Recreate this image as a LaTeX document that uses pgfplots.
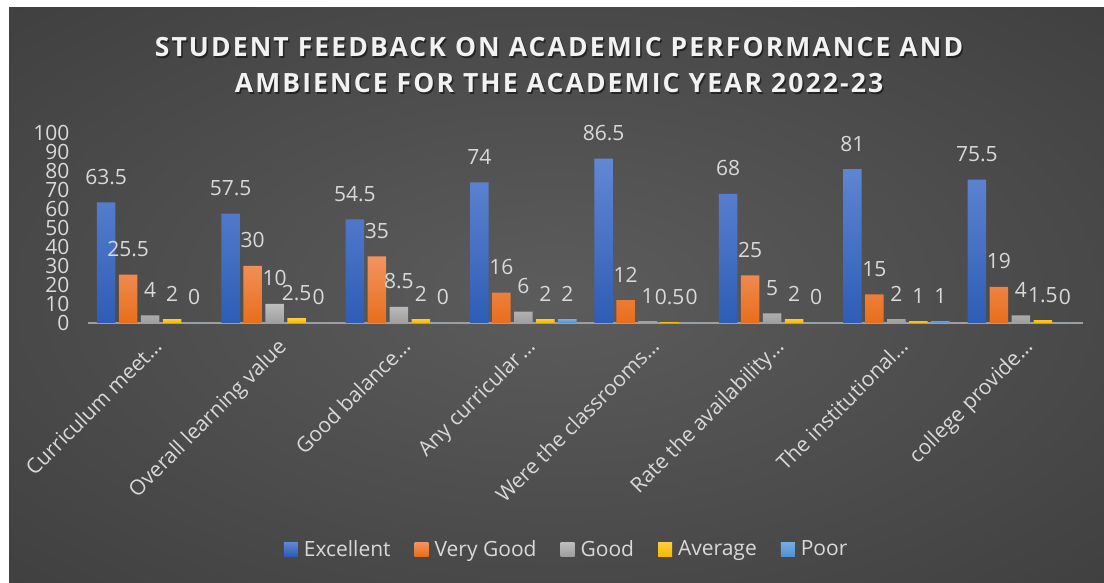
\documentclass[border=0pt]{standalone}
\usepackage{pgfplots}
\usepackage{pgfplotstable}
\pgfplotsset{compat=1.18}
\usepackage{fontspec}
\setmainfont{Open Sans}
\newfontfamily\titlefont[LetterSpace=8]{Open Sans}
\definecolor{bgin}{RGB}{92,92,92}
\definecolor{bgout}{RGB}{36,36,36}
\definecolor{lbl}{RGB}{217,217,217}
\definecolor{excT}{RGB}{98,135,212}
\definecolor{excB}{RGB}{46,93,181}
\definecolor{vgT}{RGB}{242,148,96}
\definecolor{vgB}{RGB}{232,110,28}
\definecolor{gdT}{RGB}{190,190,190}
\definecolor{gdB}{RGB}{158,158,158}
\definecolor{avT}{RGB}{255,205,60}
\definecolor{avB}{RGB}{245,185,0}
\definecolor{prT}{RGB}{120,172,225}
\definecolor{prB}{RGB}{80,145,210}
\pgfdeclareradialshading{bgshade}{\pgfpoint{0bp}{0bp}}{color(0bp)=(bgin); color(71bp)=(bgout)}

\pgfplotstableread{
x exc vg good avg poor
0 63.5 25.5 4 2 0
1 57.5 30 10 2.5 0
2 54.5 35 8.5 2 0
3 74 16 6 2 2
4 86.5 12 1 0.5 0
5 68 25 5 2 0
6 81 15 2 1 1
7 75.5 19 4 1.5 0
}\data

\begin{document}
\begin{tikzpicture}
\useasboundingbox (0,0) rectangle (1104bp,583bp);
\fill[white] (0,0) rectangle (1104bp,583bp);
\shade[shading=bgshade] (9bp,0) rectangle (1104bp,575bp);
\node[anchor=base, text=black, opacity=0.5, font=\titlefont\bfseries\fontsize{26.5bp}{30bp}\selectfont] at (560.5bp,524.8bp) {STUDENT FEEDBACK ON ACADEMIC PERFORMANCE AND};
\node[anchor=base, text=black, opacity=0.5, font=\titlefont\bfseries\fontsize{26.5bp}{30bp}\selectfont] at (560.5bp,488.8bp) {AMBIENCE FOR THE ACADEMIC YEAR 2022-23};
\node[anchor=base, text=white!95!black, font=\titlefont\bfseries\fontsize{26.5bp}{30bp}\selectfont] at (559bp,526.3bp) {STUDENT FEEDBACK ON ACADEMIC PERFORMANCE AND};
\node[anchor=base, text=white!95!black, font=\titlefont\bfseries\fontsize{26.5bp}{30bp}\selectfont] at (559bp,490.3bp) {AMBIENCE FOR THE ACADEMIC YEAR 2022-23};
\begin{axis}[
  at={(88bp,260bp)}, anchor=south west,
  scale only axis, width=995bp, height=190bp,
  xmin=-0.5, xmax=7.5, ymin=0, ymax=100,
  clip=false,
  ybar=3.5bp, bar width=18.5bp,
  axis lines*=left,
  axis line style={-},
  y axis line style={draw=none},
  x axis line style={draw=white!62!black, line width=1.6bp},
  major tick length=0pt,
  ytick={0,10,...,100},
  xtick={0,...,7},
  xticklabels={Curriculum meet…, Overall learning value, Good balance…, Any curricular\hspace{0.12em}…, Were the classrooms…, Rate the availability…, The institutional…, college provide…},
  /pgf/number format/assume math mode=true,
  tick label style={font=\fontsize{21bp}{22bp}\selectfont, text=lbl},
  yticklabel style={xshift=-15bp},
  xticklabel style={xshift=13bp, yshift=-25bp, rotate=45, anchor=base east, inner sep=0pt},
  nodes near coords,
  every node near coord/.append style={font=\fontsize{21bp}{24bp}\selectfont, text=lbl, anchor=base, yshift=18bp},
  legend columns=5,
  legend style={at={(0.481,-1.19)}, anchor=center, draw=none, fill=none, text=lbl, font=\fontsize{21bp}{24bp}\selectfont,
    /tikz/every odd column/.append style={column sep=4bp},
    /tikz/every even column/.append style={column sep=22bp}},
  legend image code/.code={\fill[#1] (0bp,-7bp) rectangle (14bp,7bp);},
]
\addplot[draw=none, top color=excT, bottom color=excB] table[x=x,y=exc]{\data};
\addplot[draw=none, top color=vgT, bottom color=vgB] table[x=x,y=vg]{\data};
\addplot[draw=none, top color=gdT, bottom color=gdB] table[x=x,y=good]{\data};
\addplot[draw=none, top color=avT, bottom color=avB] table[x=x,y=avg]{\data};
\addplot[draw=none, top color=prT, bottom color=prB] table[x=x,y=poor]{\data};
\legend{Excellent, Very Good, Good, Average, Poor}
\end{axis}
\end{tikzpicture}
\end{document}
